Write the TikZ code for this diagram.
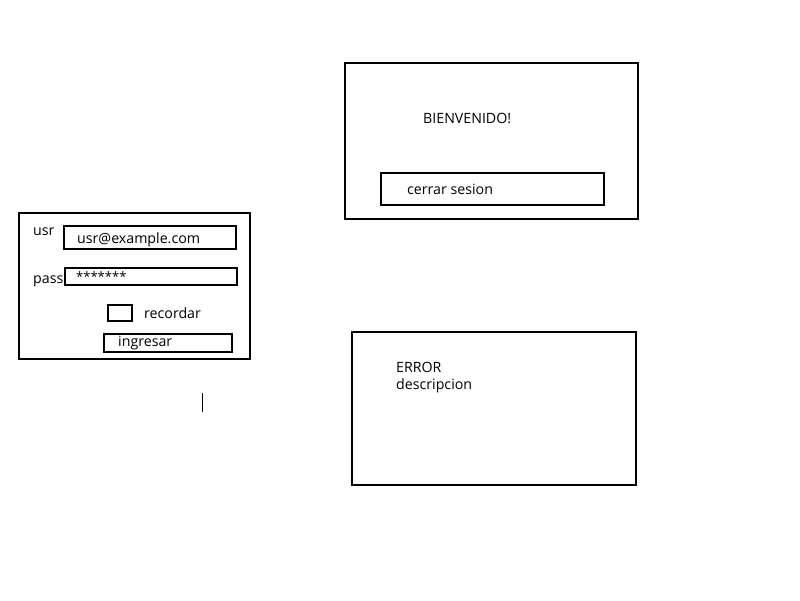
\documentclass[tikz,border=0pt]{standalone}
\usepackage{fontspec}
\setmainfont{Open Sans}
\usepackage{tikz}
\tikzset{
	frame/.style={line width=1.6pt},%
	field/.style={line width=1.6pt},%
	label/.style={anchor=west,inner sep=0pt,font=\fontsize{14.2}{16}\selectfont},%
	cursor/.style={line width=0.8pt},%
}
\begin{document}
\begin{tikzpicture}[%
		x=1pt,y=-1pt,%
		]
		\useasboundingbox (0,0) rectangle (800,600);
		% login
		\draw[frame] (19,213) rectangle (250,359);
		\node[label] (usr) at (33,232) {usr};
		\draw[field] (64,226) rectangle (236,249);
		\node[label] (usrval) at (77,240) {usr@example.com};
		\node[label] (pass) at (33,281) {pass};
		\draw[field] (65,268) rectangle (237,285);
		\node[label,font=\fontsize{13}{15}\selectfont] (passval) at (76,277) {*******};
		\draw[field] (108,305) rectangle (132,321);
		\node[label] (recordar) at (144,313) {recordar};
		\draw[field] (104,334) rectangle (232,352);
		\node[label] (ingresar) at (118,343) {ingresar};
		\draw[cursor] (202,393) -- (202,412);
		% bienvenido
		\draw[frame] (345,63) rectangle (638,219);
		\node[label] (bienvenido) at (423,118) {BIENVENIDO!};
		\draw[field] (381,173) rectangle (604,205);
		\node[label] (cerrar) at (407,189) {cerrar sesion};
		% error
		\draw[frame] (352,332) rectangle (636,485);
		\node[label] (error) at (396,367) {ERROR};
		\node[label] (desc) at (396,386) {descripcion};
	\end{tikzpicture}
\end{document}
